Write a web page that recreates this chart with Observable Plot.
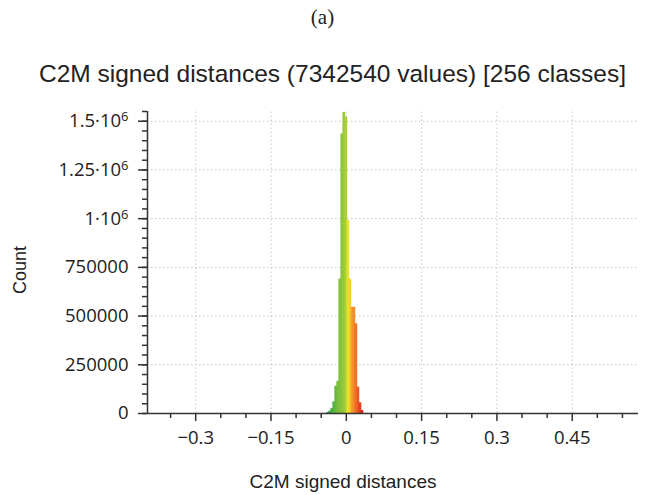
<!DOCTYPE html>
<html><head><meta charset="utf-8">
<script src="https://cdn.jsdelivr.net/npm/d3@7"></script>
<script src="https://cdn.jsdelivr.net/npm/@observablehq/plot@0.6"></script>
<style>
body{margin:0;background:#fff;}
#wrap{position:relative;width:645px;height:495px;overflow:hidden;background:#fff;}
.hdr{position:absolute;left:0;width:645px;text-align:center;white-space:nowrap;color:#222;line-height:1;}
</style></head><body>
<div id="wrap">
<div class="hdr" style="top:7px;font-family:'Liberation Serif',serif;font-size:21px;">(a)</div>
<div class="hdr" style="top:62px;left:10px;font-family:'Liberation Sans',Arial,sans-serif;font-size:24.5px;">C2M signed distances (7342540 values) [256 classes]</div>
<div id="chart" style="position:absolute;left:0;top:100px;"></div>
<div class="hdr" style="top:472px;left:-2px;font-family:'Liberation Sans',Arial,sans-serif;font-size:19px;width:690px;">C2M signed distances</div>
<div style="position:absolute;left:20px;top:270px;transform:translate(-50%,-50%) rotate(-90deg);font-family:'Liberation Sans',Arial,sans-serif;font-size:18px;color:#222;white-space:nowrap;line-height:1;">Count</div>
</div>
<script>
// Histogram classes (left edge of each class, in distance units) and counts
const binEdges = [-0.038,-0.034,-0.030,-0.026,-0.022,-0.018,-0.014,-0.010,-0.006,-0.002,0.002,0.006,0.010,0.014,0.018,0.022,0.026,0.030];
const binWidth = 0.004;
const counts = [5000,12000,25000,60000,140000,165000,690000,1435000,1545000,1520000,990000,690000,545000,545000,460000,135000,55000,15000];

// Axis ticks and labels
const xTicks = [-0.3,-0.15,0,0.15,0.3,0.45];
const xTickLabels = ["\u22120.3","\u22120.15","0","0.15","0.3","0.45"];
const xMinor = [-0.35,-0.25,-0.2,-0.1,-0.05,0.05,0.1,0.2,0.25,0.35,0.4,0.5,0.55];
const yTicks = [0,250000,500000,750000,1000000,1250000,1500000];
const yTickLabels = ["0","250000","500000","750000","1\u00b710\u2076","1.25\u00b710\u2076","1.5\u00b710\u2076"];
const yMinor = d3.range(0, 1550001, 50000);
const xDomain = [-0.396, 0.582];
const yDomain = [0, 1550000];

// Colour ramp of the scalar field (distance -> colour)
const colorStops = [-0.036,-0.026,-0.016,-0.006,0.0,0.004,0.008,0.012,0.018,0.024,0.030];
const colorRange = ["#2f9a45","#4aae44","#76bf3e","#8fc53a","#abd036","#e2e42c","#f8d02a","#f5a42a","#f07e2a","#ec5a24","#e0301c"];

const bins = binEdges.map((x1, i) => ({x1, x2: x1 + binWidth, mid: x1 + binWidth / 2, count: counts[i]}));

const grid = {stroke: "#c4c4c4", strokeDasharray: "1.5 2.5", strokeWidth: 1};
const chart = Plot.plot({
  width: 645, height: 395,
  marginLeft: 147, marginRight: 7, marginTop: 11, marginBottom: 82,
  style: {fontFamily: "'Open Sans', sans-serif", fontSize: "17px", color: "#222", background: "#fff"},
  x: {domain: xDomain, label: null},
  y: {domain: yDomain, label: null},
  color: {type: "linear", domain: colorStops, range: colorRange, interpolate: "rgb"},
  marks: [
    Plot.ruleY(yTicks.filter(d => d > 0), {...grid}),
    Plot.ruleX(xTicks, {...grid, y1: 0, y2: yDomain[1]}),
    Plot.rectY(bins, {x1: "x1", x2: "x2", y: "count", fill: "mid", insetLeft: -0.4, insetRight: -0.4}),
    Plot.axisY(yMinor, {tickSize: 5, tickFormat: () => "", strokeWidth: 1.5, stroke: "#333"}),
    Plot.axisY(yTicks, {tickSize: 9, tickPadding: 10, strokeWidth: 1.5, stroke: "#333", fontSize: 18.5,
      tickFormat: d => yTickLabels[yTicks.indexOf(d)]}),
    Plot.axisX(xMinor, {tickSize: 5, tickFormat: () => "", strokeWidth: 1.5, stroke: "#333"}),
    Plot.axisX(xTicks, {tickSize: 8, tickPadding: 9, strokeWidth: 1.5, stroke: "#333", fontSize: 18.5,
      tickFormat: d => xTickLabels[xTicks.indexOf(d)]}),
    Plot.ruleY([0], {stroke: "#333", strokeWidth: 1.5}),
    Plot.ruleX([xDomain[0]], {y1: 0, y2: yDomain[1], stroke: "#333", strokeWidth: 1.5})
  ]
});
// render the exponent as a raised, smaller digit
d3.select(chart).selectAll("text").each(function () {
  const t = this.textContent;
  if (t.includes("\u2076")) {
    const sel = d3.select(this);
    sel.text(t.replace("\u2076", ""));
    sel.append("tspan").attr("dy", "-0.45em").attr("font-size", "0.7em").text("6");
  }
});
document.getElementById("chart").appendChild(chart);
</script>
</body></html>
